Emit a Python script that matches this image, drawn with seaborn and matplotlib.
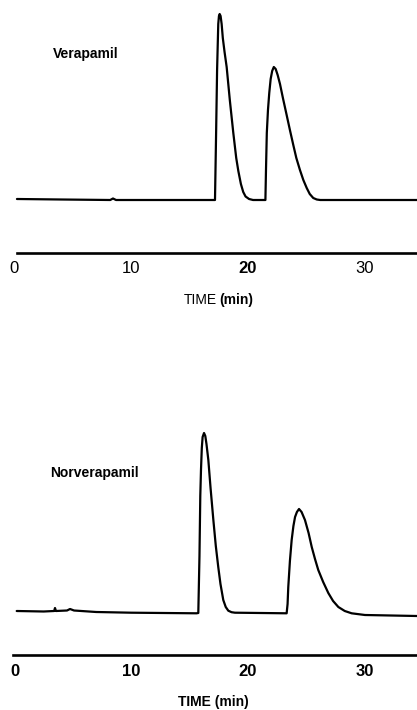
import matplotlib
matplotlib.use("Agg")
import matplotlib.pyplot as plt
import seaborn as sns
import pandas as pd

# ---- data (time in min, detector signal in arbitrary units) ----
ver_time = [0.21, 4.0, 8.2, 8.44, 8.7, 13.0, 17.18, 17.28, 17.36, 17.46, 17.52, 17.58,
            17.66, 17.75, 17.85, 18.0, 18.18, 18.45, 18.75, 19.0, 19.18, 19.4, 19.6,
            19.8, 20.1, 20.44, 21.50, 21.55, 21.62, 21.72, 21.83, 21.95, 22.08, 22.22,
            22.38, 22.55, 22.75, 23.0, 23.32, 23.6, 23.89, 24.15, 24.46, 24.75, 25.04,
            25.3, 25.6, 25.9, 26.2, 34.49]
ver_signal = [1, 0.5, 0, 1.5, 0, 0, 0, 70, 130, 176, 184, 186,
              184, 176, 162, 148, 133, 100, 67, 42, 29, 16, 8,
              3.5, 1, 0, 0, 30, 67, 90, 107, 121, 129, 133,
              131, 125, 116, 102, 85, 70, 55, 42, 30, 20, 12,
              6, 2, 0.5, 0, 0]

nor_time = [0.19, 2.5, 3.40, 3.47, 3.55, 4.5, 4.76, 5.1, 7.0, 10.0, 15.6, 15.75,
            15.85, 15.92, 15.98, 16.05, 16.12, 16.24, 16.35, 16.45, 16.61, 16.8,
            17.04, 17.25, 17.46, 17.65, 17.89, 18.1, 18.32, 18.6, 18.89, 23.32,
            23.40, 23.46, 23.6, 23.75, 23.9, 24.04, 24.2, 24.38, 24.6, 24.89, 25.2,
            25.47, 25.75, 26.03, 26.45, 26.89, 27.3, 27.75, 28.3, 28.89, 30.03, 34.49]
nor_signal = [5, 4.5, 5, 8, 5, 5.5, 7, 5.5, 4, 3.3, 2.7, 3,
              60, 120, 146, 168, 179, 183, 180, 172, 156, 128,
              96, 70, 49, 32, 16, 9, 5.3, 3.8, 3.3, 2.7,
              12, 29, 55, 76, 90, 99, 104, 107, 104, 96, 83,
              69, 57, 46, 34, 23, 15, 9, 5, 2.7, 1, 0]

tick_values = [0, 10, 20, 30]
tick_labels = ["0", "10", "20", "30"]
panel_names = ["Verapamil", "Norverapamil"]
xlabel_text = "TIME (min)"

sns.set_theme(style="white")
plt.rcParams["font.family"] = ["Liberation Sans", "DejaVu Sans"]
plt.rcParams["text.color"] = "black"
plt.rcParams["xtick.color"] = "black"

W, H = 417, 710
fig = plt.figure(figsize=(W / 100, H / 100), dpi=100)
fig.patch.set_facecolor("white")

def fx(px):
    return px / W

def fy(py):
    return 1 - py / H

xlim = (-14.5 / 11.67, (417 - 14.5) / 11.67)

# top panel: axis line at y=252.7 px, baseline at 200 px, 1 unit = 1 px
ax1 = fig.add_axes([0, fy(252.7), 1, 252.7 / H])
ax1.set_ylim(-52.7, 200)
# bottom panel: axis line at 655.3 px, zero at 616 px
ax2 = fig.add_axes([0, fy(655.3), 1, (655.3 - 330) / H])
ax2.set_ylim(-39.3, 286)

df1 = pd.DataFrame({"time": ver_time, "signal": ver_signal})
df2 = pd.DataFrame({"time": nor_time, "signal": nor_signal})
sns.lineplot(data=df1, x="time", y="signal", ax=ax1, color="black", lw=1.6,
             estimator=None, solid_joinstyle="round", solid_capstyle="round")
sns.lineplot(data=df2, x="time", y="signal", ax=ax2, color="black", lw=1.6,
             estimator=None, solid_joinstyle="round", solid_capstyle="round")

for ax, start, bold_all in [(ax1, 0.19, False), (ax2, -0.1, True)]:
    ax.set_xlim(*xlim)
    ax.patch.set_alpha(0)
    for s in ["top", "left", "right"]:
        ax.spines[s].set_visible(False)
    ax.spines["bottom"].set_linewidth(1.9)
    ax.spines["bottom"].set_color("black")
    ax.spines["bottom"].set_bounds(start, xlim[1])
    ax.set_yticks([])
    ax.set_xticks(tick_values)
    ax.set_xticklabels(tick_labels, fontsize=12)
    ax.tick_params(axis="x", length=0, pad=6, colors="black", labelcolor="black")
    ax.set_xlabel("")
    ax.set_ylabel("")
    for lab in ax.get_xticklabels():
        if bold_all or lab.get_text() == "20":
            lab.set_fontweight("bold")

fig.text(fx(52.7), fy(54), panel_names[0], fontsize=10, fontweight="bold",
         ha="left", va="center", color="black")
fig.text(fx(50), fy(472.7), panel_names[1], fontsize=10, fontweight="bold",
         ha="left", va="center", color="black")

time_word, unit_word = xlabel_text.split(" ")
fig.text(fx(217), fy(300), time_word, fontsize=10, ha="right", va="center", color="black")
fig.text(fx(219), fy(300), unit_word, fontsize=10, fontweight="bold", ha="left",
         va="center", color="black")
fig.text(fx(213), fy(702), xlabel_text, fontsize=10, fontweight="bold", ha="center",
         va="center", color="black")

fig.savefig("out.png", dpi=100)
